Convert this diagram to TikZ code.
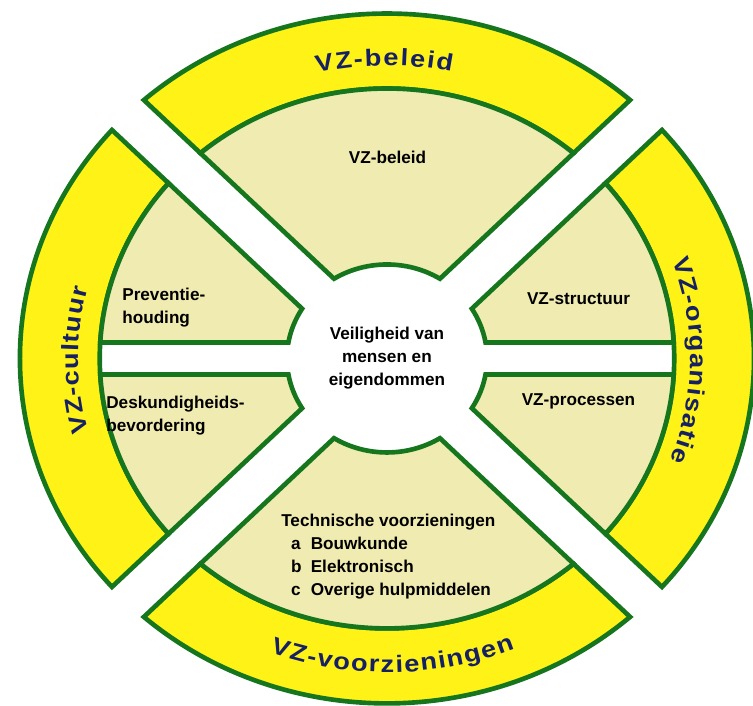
\documentclass[tikz,border=0pt]{standalone}
\usepackage{fontspec}
\setmainfont{Liberation Sans}
\newfontfamily\ringfont[FakeStretch=1.15]{Liberation Sans}
\usetikzlibrary{decorations.text}

\definecolor{ringyellow}{RGB}{255,242,22}
\definecolor{fieldbeige}{RGB}{240,235,176}
\definecolor{edgegreen}{RGB}{22,118,30}
\definecolor{labelblue}{RGB}{22,32,100}

\tikzset{
  piece/.style={draw=edgegreen, line width=3.3pt, line join=miter},
  ring/.style={piece, fill=ringyellow},
  field/.style={piece, fill=fieldbeige},
  fieldtext/.style={font=\fontsize{12.2}{16.3}\selectfont\bfseries, inner sep=0pt},
  ringtext/.style={decoration={text along path, text align={fit to path},
      text color=labelblue, text={|\ringfont\fontsize{16.8}{19}\selectfont\bfseries|#1}}, decorate}
}

\begin{document}
\begin{tikzpicture}[x=0.0266cm, y=0.025cm]

        \useasboundingbox (-363.7,-347.5) rectangle (344,358.5);

        % radii: outer ring, inner ring, centre
        \def\R{345}
        \def\ra{270}
        \def\rb{94}
        \pgfmathsetmacro{\dR}{asin(21.2/\R)}
        \pgfmathsetmacro{\da}{asin(21.2/\ra)}
        \pgfmathsetmacro{\db}{asin(21.2/\rb)}
        \pgfmathsetmacro{\ea}{asin(16/\ra)}
        \pgfmathsetmacro{\eb}{asin(16/\rb)}

        % top and bottom pieces
        \foreach \c in {90,270} {
            \draw[ring] ({\c-45+\dR}:\R) arc[start angle=\c-45+\dR, end angle=\c+45-\dR, radius=\R]
                -- ({\c+45-\da}:\ra) arc[start angle=\c+45-\da, end angle=\c-45+\da, radius=\ra] -- cycle;
            \draw[field] ({\c-45+\da}:\ra) arc[start angle=\c-45+\da, end angle=\c+45-\da, radius=\ra]
                -- ({\c+45-\db}:\rb) arc[start angle=\c+45-\db, end angle=\c-45+\db, radius=\rb] -- cycle;
        }

        % left and right pieces, split in two
        \foreach \c in {0,180} {
            \draw[ring] ({\c-45+\dR}:\R) arc[start angle=\c-45+\dR, end angle=\c+45-\dR, radius=\R]
                -- ({\c+45-\da}:\ra) arc[start angle=\c+45-\da, end angle=\c-45+\da, radius=\ra] -- cycle;
            \draw[field] ({\c-45+\da}:\ra) arc[start angle=\c-45+\da, end angle=\c-\ea, radius=\ra]
                -- ({\c-\eb}:\rb) arc[start angle=\c-\eb, end angle=\c-45+\db, radius=\rb] -- cycle;
            \draw[field] ({\c+\ea}:\ra) arc[start angle=\c+\ea, end angle=\c+45-\da, radius=\ra]
                -- ({\c+45-\db}:\rb) arc[start angle=\c+45-\db, end angle=\c+\eb, radius=\rb] -- cycle;
        }

        % ring labels
        \path[ringtext={VZ-beleid}] (103:293) arc[start angle=103, end angle=78, radius=293];
        \path[ringtext={VZ-cultuur}] (194.5:290) arc[start angle=194.5, end angle=166, radius=290];
        \path[ringtext={VZ-organisatie}] (20:285) arc[start angle=20, end angle=-21, radius=285];
        \path[ringtext={VZ-voorzieningen}] (249.5:314) arc[start angle=249.5, end angle=292.5, radius=314];

        % field labels
        \node[fieldtext] (policy) at (0.5,201) {VZ-beleid};
        \node[fieldtext, align=center] (core) at (0,0.5) {Veiligheid van\\mensen en\\eigendommen};
        \node[fieldtext, align=left, anchor=west] (attitude) at (-249,50.5) {Preventie-\\houding};
        \node[fieldtext, align=left, anchor=west] (expertise) at (-264,-57.5) {Deskundigheids-\\bevordering};
        \node[fieldtext] (structure) at (180,59.5) {VZ-structuur};
        \node[fieldtext] (processes) at (180,-43.2) {VZ-processen};
        \node[fieldtext, align=left, anchor=west] (provisions) at (-99.6,-198.5)
            {Technische voorzieningen\\
             \hspace*{7pt}\makebox[14pt][l]{a}Bouwkunde\\
             \hspace*{7pt}\makebox[14pt][l]{b}Elektronisch\\
             \hspace*{7pt}\makebox[14pt][l]{c}Overige hulpmiddelen};

\end{tikzpicture}
\end{document}
